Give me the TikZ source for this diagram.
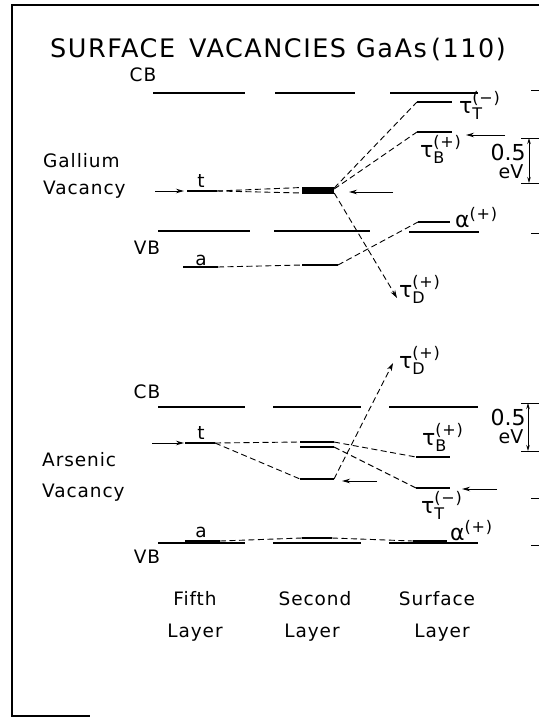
\documentclass[tikz,border=0pt]{standalone}
\usepackage{fontspec}
\setmainfont{DejaVu Sans}[LetterSpace=5]
\usetikzlibrary{arrows.meta}
\newcommand{\lv}[3]{$\hbox{\fontsize{22}{22}\selectfont #1}_{\hbox{\fontsize{16}{16}\selectfont #2}}^{\hbox{\fontsize{16}{16}\selectfont #3}}$}
\begin{document}
\begin{tikzpicture}[x=1pt,y=-1pt,
  lvl/.style={line width=1.6pt},
  conn/.style={line width=0.9pt, dash pattern=on 6pt off 3.5pt},
  darrow/.style={conn, -{Stealth[length=8pt,width=5pt]}},
  ptr/.style={line width=0.9pt, -{Stealth[length=8pt,width=4.5pt]}},
  txt/.style={font=\fontsize{18.5}{20}\selectfont, inner sep=0pt},
  sym/.style={font=\fontsize{22}{24}\selectfont, inner sep=0pt, anchor=base west},
  frame/.style={line width=1.3pt},
  tick/.style={line width=0.9pt}]
\useasboundingbox (0,0) rectangle (539,717);
% frame
\coordinate (fTL) at (12,5); \coordinate (fTR) at (539,5);
\coordinate (fBL) at (12,716); \coordinate (fBR) at (90,716);
\draw[frame] (fTR) -- (fTL) -- (fBL) -- (fBR);
% title
\node[inner sep=0pt, anchor=base west, font=\fontsize{25.5}{28}\selectfont\addfontfeature{LetterSpace=6}] (title) at (50,57) {SURFACE\hspace{14pt}VACANCIES\hspace{10pt}GaAs\,(110)};

% ================= GALLIUM =================
\node[txt] (cb1) at (143,75) {CB};
\node[txt] (vb1) at (147,248) {VB};
\node[txt, anchor=base west] (ga1) at (43,167) {Gallium};
\node[txt, anchor=base west] (va1) at (43,194) {Vacancy};
% CB / VB
\coordinate (c1a) at (153,93); \coordinate (c1b) at (245,93);
\coordinate (c2a) at (275,93); \coordinate (c2b) at (355,93);
\coordinate (c3a) at (390,93); \coordinate (c3b) at (478,93);
\draw[lvl] (c1a) -- (c1b); \draw[lvl] (c2a) -- (c2b); \draw[lvl] (c3a) -- (c3b);
\coordinate (v1a) at (158,231); \coordinate (v1b) at (250,231);
\coordinate (v2a) at (274,231); \coordinate (v2b) at (370,231);
\coordinate (v3a) at (409,232); \coordinate (v3b) at (479,232);
\draw[lvl] (v1a) -- (v1b); \draw[lvl] (v2a) -- (v2b); \draw[lvl] (v3a) -- (v3b);
% levels
\coordinate (gtA) at (187,191); \coordinate (gtB) at (217,191);
\draw[lvl] (gtA) -- (gtB);
\node[txt] (gtl) at (201,181) {t};
\node[fill=black, minimum width=32pt, minimum height=7pt, inner sep=0pt] (gblk) at (318,190) {};
\coordinate (gTTa) at (417,102); \coordinate (gTTb) at (452,102);
\coordinate (gTBa) at (417,132); \coordinate (gTBb) at (452,132);
\draw[lvl] (gTTa) -- (gTTb); \draw[lvl] (gTBa) -- (gTBb);
\coordinate (gaA) at (183,267); \coordinate (gaB) at (218,267);
\coordinate (g2aA) at (302,265); \coordinate (g2aB) at (338,265);
\coordinate (gALa) at (418,222); \coordinate (gALb) at (450,222);
\draw[lvl] (gaA) -- (gaB); \draw[lvl] (g2aA) -- (g2aB); \draw[lvl] (gALa) -- (gALb);
\node[txt] (gal) at (201,260) {a};
% labels
\node[sym] (gTTl) at (459,113) {\lv{τ}{T}{(−)}};
\node[sym] (gTBl) at (420,157) {\lv{τ}{B}{(+)}};
\node[sym] (gALl) at (455,227) {\lv{α}{}{(+)}};
\node[sym] (gTDl) at (399,297) {\lv{τ}{D}{(+)}};
% connectors
\draw[conn] (gtB) -- (gblk.west |- 0,187.5);
\draw[conn] (gtB) -- (gblk.west |- 0,193);
\draw[conn] (gblk.east |- 0,188) -- (gTTa);
\draw[conn] (gblk.east |- 0,189) -- (gTBa);
\coordinate (gDtip) at (397,298);
\draw[darrow] (gblk.east |- 0,193) -- (gDtip);
\draw[conn] (gaB) -- (g2aA);
\draw[conn] (g2aB) -- (gALa);
% pointers
\coordinate (gp1s) at (155,191); \coordinate (gp1e) at (184,191);
\coordinate (gp2s) at (393,192); \coordinate (gp2e) at (349,192);
\coordinate (gp3s) at (505,135); \coordinate (gp3e) at (466,135);
\draw[ptr] (gp1s) -- (gp1e); \draw[ptr] (gp2s) -- (gp2e); \draw[ptr] (gp3s) -- (gp3e);
% scale bar
\coordinate (gsT) at (529,138); \coordinate (gsB) at (529,183);
\coordinate (gsTl) at (521,138); \coordinate (gsTr) at (539,138);
\coordinate (gsBl) at (521,183); \coordinate (gsBr) at (539,183);
\draw[tick] (gsTl) -- (gsTr); \draw[tick] (gsBl) -- (gsBr);
\draw[line width=0.9pt, {Stealth[length=6pt,width=3.5pt]}-{Stealth[length=6pt,width=3.5pt]}] (gsT) -- (gsB);
\node[inner sep=0pt, font=\fontsize{22}{22}\selectfont\addfontfeature{LetterSpace=0}] (g05) at (508,152) {0.5};
\node[inner sep=0pt, font=\fontsize{19}{20}\selectfont\addfontfeature{LetterSpace=0}] (geV) at (511,172) {eV};
% right ticks
\coordinate (rt1a) at (531,90); \coordinate (rt1b) at (539,90);
\coordinate (rt2a) at (531,233); \coordinate (rt2b) at (539,233);
\draw[tick] (rt1a) -- (rt1b); \draw[tick] (rt2a) -- (rt2b);

% ================= ARSENIC =================
\node[txt] (cb2) at (147,392) {CB};
\node[txt] (vb2) at (147,557) {VB};
\node[txt, anchor=base west] (as2) at (42,466) {Arsenic};
\node[txt, anchor=base west] (va2) at (42,497) {Vacancy};
\coordinate (C1a) at (158,407); \coordinate (C1b) at (245,407);
\coordinate (C2a) at (273,407); \coordinate (C2b) at (361,407);
\coordinate (C3a) at (389,407); \coordinate (C3b) at (478,407);
\draw[lvl] (C1a) -- (C1b); \draw[lvl] (C2a) -- (C2b); \draw[lvl] (C3a) -- (C3b);
\coordinate (V1a) at (158,543); \coordinate (V1b) at (245,543);
\coordinate (V2a) at (273,543); \coordinate (V2b) at (361,543);
\coordinate (V3a) at (389,543); \coordinate (V3b) at (478,543);
\draw[lvl] (V1a) -- (V1b); \draw[lvl] (V2a) -- (V2b); \draw[lvl] (V3a) -- (V3b);
% levels
\coordinate (atA) at (185,443); \coordinate (atB) at (215,443);
\draw[lvl] (atA) -- (atB);
\node[txt] (atl) at (201,433) {t};
\coordinate (adUa) at (300,442); \coordinate (adUb) at (334,442);
\coordinate (adLa) at (300,447); \coordinate (adLb) at (334,447);
\draw[lvl] (adUa) -- (adUb); \draw[lvl] (adLa) -- (adLb);
\coordinate (alA) at (300,479); \coordinate (alB) at (334,479);
\draw[lvl] (alA) -- (alB);
\coordinate (aTBa) at (416,457); \coordinate (aTBb) at (450,457);
\coordinate (aTTa) at (416,488); \coordinate (aTTb) at (450,488);
\draw[lvl] (aTBa) -- (aTBb); \draw[lvl] (aTTa) -- (aTTb);
\coordinate (aaA) at (185,541); \coordinate (aaB) at (220,541);
\coordinate (a2aA) at (302,538); \coordinate (a2aB) at (332,538);
\coordinate (aALa) at (413,541); \coordinate (aALb) at (447,541);
\draw[line width=2.4pt] (aaA) -- (aaB); \draw[lvl] (a2aA) -- (a2aB); \draw[line width=2.4pt] (aALa) -- (aALb);
\node[txt] (aal) at (201,532) {a};
% labels
\node[sym] (aTDl) at (399,368) {\lv{τ}{D}{(+)}};
\node[sym] (aTBl) at (422,445) {\lv{τ}{B}{(+)}};
\node[sym] (aTTl) at (421,513) {\lv{τ}{T}{(−)}};
\node[sym] (aALl) at (450,540) {\lv{α}{}{(+)}};
% connectors
\draw[conn] (atB) -- (adUa);
\draw[conn] (atB) -- (alA);
\coordinate (aDtip) at (393,363);
\draw[darrow] (alB) -- (aDtip);
\draw[conn] (adUb) -- (aTBa);
\draw[conn] (adLb) -- (aTTa);
\draw[conn] (aaB) -- (a2aA);
\draw[conn] (a2aB) -- (aALa);
% pointers
\coordinate (ap1s) at (152,443); \coordinate (ap1e) at (184,443);
\coordinate (ap2s) at (377,481); \coordinate (ap2e) at (342,481);
\coordinate (ap3s) at (497,489); \coordinate (ap3e) at (462,489);
\draw[ptr] (ap1s) -- (ap1e); \draw[ptr] (ap2s) -- (ap2e); \draw[ptr] (ap3s) -- (ap3e);
% scale bar
\coordinate (asT) at (528,403); \coordinate (asB) at (528,451);
\coordinate (asTl) at (521,403); \coordinate (asTr) at (539,403);
\coordinate (asBl) at (521,451); \coordinate (asBr) at (539,451);
\draw[tick] (asTl) -- (asTr); \draw[tick] (asBl) -- (asBr);
\draw[line width=0.9pt, {Stealth[length=6pt,width=3.5pt]}-{Stealth[length=6pt,width=3.5pt]}] (asT) -- (asB);
\node[inner sep=0pt, font=\fontsize{22}{22}\selectfont\addfontfeature{LetterSpace=0}] (a05) at (508,417) {0.5};
\node[inner sep=0pt, font=\fontsize{19}{20}\selectfont\addfontfeature{LetterSpace=0}] (aeV) at (511,437) {eV};
\coordinate (rt3a) at (531,498); \coordinate (rt3b) at (539,498);
\coordinate (rt4a) at (531,545); \coordinate (rt4b) at (539,545);
\draw[tick] (rt3a) -- (rt3b); \draw[tick] (rt4a) -- (rt4b);

% ================= bottom labels =================
\node[txt, anchor=base] (f1) at (195,605) {Fifth};
\node[txt, anchor=base] (f2) at (195,637) {Layer};
\node[txt, anchor=base] (s1) at (315,605) {Second};
\node[txt, anchor=base] (s2) at (312,637) {Layer};
\node[txt, anchor=base] (u1) at (437,605) {Surface};
\node[txt, anchor=base] (u2) at (442,637) {Layer};
\end{tikzpicture}
\end{document}
